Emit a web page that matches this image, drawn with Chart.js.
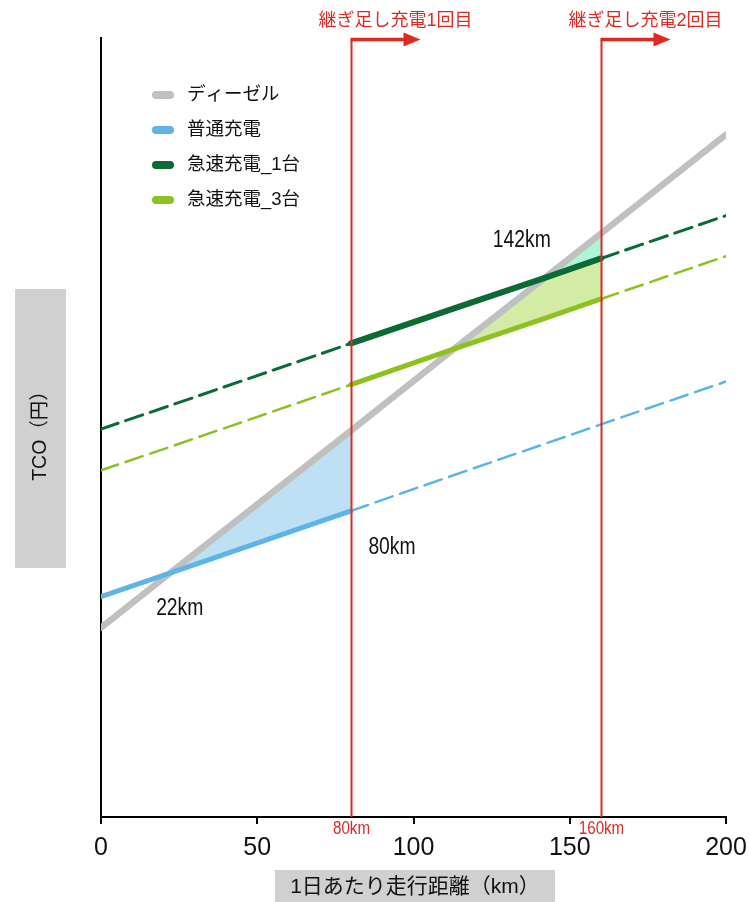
<!DOCTYPE html>
<html lang="ja">
<head>
<meta charset="utf-8">
<title>TCO比較</title>
<script src="https://cdn.jsdelivr.net/npm/chart.js@4.4.1/dist/chart.umd.min.js"></script>
<style>
  html, body { margin: 0; padding: 0; background: #fff; }
  canvas { display: block; }
</style>
</head>
<body>
<canvas id="tco" width="750" height="902"></canvas>
<script>
// 1日あたり走行距離（km）
const distanceKm = [0, 22, 80, 113, 142, 160, 200];

// TCO（相対値）
const dieselTco  = [24.3, 31.3, 49.6, 60.1, 69.2, 74.9, 87.6];
const normalTco  = [28.3, 31.3, 39.3, 43.9, 47.9, 50.4, 55.9];
const fast1Tco   = [49.8, 52.8, 60.8, 65.3, 69.2, 71.7, 77.2];
const fast3Tco   = [44.5, 47.5, 55.5, 60.1, 64.0, 66.5, 72.0];

const seriesNames = ['ディーゼル', '普通充電', '急速充電_1台', '急速充電_3台'];
const xTicks = [0, 50, 100, 150, 200];

// 継ぎ足し充電の位置
const refuelKm = [80, 160];
const refuelLabels = ['継ぎ足し充電1回目', '継ぎ足し充電2回目'];

// 交点・区間の目安
const crossingKm = [22, 80, 142];

const LATIN = "'Liberation Sans', 'Noto Sans CJK JP', sans-serif";
const RED = '#de2a23';
const COLORS = {
  diesel: '#c0c0c0',
  normal: '#5db4e6',
  fast1: '#0a6b36',
  fast3: '#8cc21f',
  normalFill: '#bee0f4',
  fast3Fill: '#d4eba5',
  fast1Fill: '#aef5d5'
};

const pts = (values) => distanceKm.map((x, i) => ({ x, y: values[i] }));
const at = (values, km) => values[distanceKm.indexOf(km)];
const pick = (pairs) => pairs.map(([km, values]) => ({ x: km, y: at(values, km) }));

// solid inside [from, to), dashed elsewhere
const styled = (from, to, solidW, dashW) => ({
  borderDash: ctx => (ctx.p0.parsed.x >= from && ctx.p0.parsed.x < to) ? [] : [18, 8],
  borderWidth: ctx => (ctx.p0.parsed.x >= from && ctx.p0.parsed.x < to) ? solidW : dashW
});

const lineBase = {
  type: 'line', pointRadius: 0, pointHoverRadius: 0, tension: 0,
  borderCapStyle: 'round', borderJoinStyle: 'round', fill: false
};
const hidden = { ...lineBase, borderWidth: 0, borderColor: 'rgba(0,0,0,0)', order: 10 };

const datasets = [
  { ...lineBase, label: seriesNames[0], data: pts(dieselTco), borderColor: COLORS.diesel, borderWidth: 6.5, order: 5 },
  { ...lineBase, label: seriesNames[1], data: pts(normalTco), borderColor: COLORS.normal, borderWidth: 5, order: 4,
    segment: styled(0, 80, 5, 2.5) },
  { ...lineBase, label: seriesNames[2], data: pts(fast1Tco), borderColor: COLORS.fast1, borderWidth: 6, order: 2,
    segment: styled(80, 160, 6, 3) },
  { ...lineBase, label: seriesNames[3], data: pts(fast3Tco), borderColor: COLORS.fast3, borderWidth: 5, order: 3,
    segment: styled(80, 160, 5, 2.5) },
  // 普通充電の優位区間
  { ...hidden, data: pick([[22, dieselTco], [80, dieselTco]]), fill: { target: 5 }, backgroundColor: COLORS.normalFill },
  { ...hidden, data: pick([[22, normalTco], [80, normalTco]]) },
  // 急速充電_3台の優位区間
  { ...hidden, data: pick([[113, dieselTco], [142, dieselTco], [160, fast1Tco]]), fill: { target: 7 }, backgroundColor: COLORS.fast3Fill },
  { ...hidden, data: pick([[113, fast3Tco], [142, fast3Tco], [160, fast3Tco]]) },
  // 急速充電_1台の優位区間
  { ...hidden, data: pick([[142, dieselTco], [160, dieselTco]]), fill: { target: 9 }, backgroundColor: COLORS.fast1Fill },
  { ...hidden, data: pick([[142, fast1Tco], [160, fast1Tco]]) }
];

// horizontally condensed text, centred on (x, y)
function condensedText(ctx, text, x, y, size, squeeze) {
  ctx.save();
  ctx.translate(x, y);
  ctx.scale(squeeze, 1);
  ctx.font = `${size}px ${LATIN}`;
  ctx.textAlign = 'center';
  ctx.textBaseline = 'middle';
  ctx.fillText(text, 0, 0);
  ctx.restore();
}

const decorations = {
  id: 'decorations',
  beforeDraw(chart) {
    const { ctx } = chart;
    ctx.save();
    ctx.fillStyle = '#fff';
    ctx.fillRect(0, 0, chart.width, chart.height);
    // 軸タイトルの背景
    ctx.fillStyle = '#d0d0d0';
    ctx.fillRect(275, 870, 280, 32);
    ctx.fillRect(15, 289, 51, 279);
    ctx.fillStyle = '#111';
    ctx.textAlign = 'center';
    ctx.textBaseline = 'middle';
    ctx.font = `21px ${LATIN}`;
    ctx.fillText('1日あたり走行距離（km）', 415, 887);
    ctx.translate(41, 431);
    ctx.rotate(-Math.PI / 2);
    ctx.font = `19.5px ${LATIN}`;
    ctx.fillText('TCO（円）', 0, 0);
    ctx.restore();
  },
  afterDatasetsDraw(chart) {
    const { ctx, chartArea } = chart;
    const xs = chart.scales.x, ys = chart.scales.y;
    ctx.save();

    // 交点ラベル
    const anchors = [
      [crossingKm[0], dieselTco, 10, 35],
      [crossingKm[1], normalTco, 41, 37],
      [crossingKm[2], dieselTco, -23, -37]
    ];
    ctx.fillStyle = '#111';
    anchors.forEach(([km, values, dx, dy]) => {
      const px = xs.getPixelForValue(km);
      const py = ys.getPixelForValue(at(values, km));
      condensedText(ctx, `${km}km`, px + dx, py + dy, 23, 0.84);
    });

    // 継ぎ足し充電の線と矢印
    refuelKm.forEach((km, i) => {
      const x = Math.round(xs.getPixelForValue(km)) + 0.5;
      const top = chartArea.top + 1.5;
      ctx.strokeStyle = RED;
      ctx.fillStyle = RED;
      ctx.lineWidth = 2;
      ctx.beginPath();
      ctx.moveTo(x, chartArea.bottom);
      ctx.lineTo(x, top);
      ctx.stroke();
      ctx.lineWidth = 3.5;
      ctx.beginPath();
      ctx.moveTo(x - 1, top);
      ctx.lineTo(x + 55, top);
      ctx.stroke();
      ctx.beginPath();
      ctx.moveTo(x + 52, top - 7);
      ctx.lineTo(x + 69, top);
      ctx.lineTo(x + 52, top + 7);
      ctx.closePath();
      ctx.fill();

      ctx.textAlign = 'center';
      ctx.textBaseline = 'middle';
      ctx.font = `18px ${LATIN}`;
      ctx.fillText(refuelLabels[i], x + 44, 21);
      condensedText(ctx, `${km}km`, x, 829, 18, 0.84);
    });

    // 凡例
    ctx.textAlign = 'left';
    ctx.textBaseline = 'middle';
    ctx.font = `18.5px ${LATIN}`;
    seriesNames.forEach((name, i) => {
      const y = 95 + i * 35;
      ctx.fillStyle = chart.data.datasets[i].borderColor;
      ctx.beginPath();
      ctx.roundRect(152, y - 4, 22, 8, 4);
      ctx.fill();
      ctx.fillStyle = '#111';
      ctx.fillText(name, 187, y);
    });
    ctx.restore();
  }
};

new Chart(document.getElementById('tco'), {
  data: { datasets },
  options: {
    responsive: false,
    devicePixelRatio: 1,
    animation: false,
    events: [],
    layout: { padding: { left: 101, right: 24, top: 38, bottom: 0 } },
    plugins: {
      legend: { display: false },
      tooltip: { enabled: false },
      title: { display: false },
      filler: { propagate: false }
    },
    scales: {
      x: {
        type: 'linear', min: 0, max: 200,
        afterBuildTicks: s => { s.ticks = xTicks.map(v => ({ value: v })); },
        afterFit: s => { s.height = 85; s.paddingLeft = 0; s.paddingRight = 0; },
        ticks: { color: '#111', font: { family: LATIN, size: 25 }, padding: 9, maxRotation: 0 },
        grid: { display: true, drawOnChartArea: false, drawTicks: true, tickLength: 7, color: '#000', lineWidth: 2 },
        border: { display: true, color: '#000', width: 2 }
      },
      y: {
        type: 'linear', min: 0, max: 100,
        afterFit: s => { s.width = 0; },
        ticks: { display: false },
        grid: { display: false, drawTicks: false },
        border: { display: true, color: '#000', width: 2 }
      }
    }
  },
  plugins: [decorations]
});
</script>
</body>
</html>
